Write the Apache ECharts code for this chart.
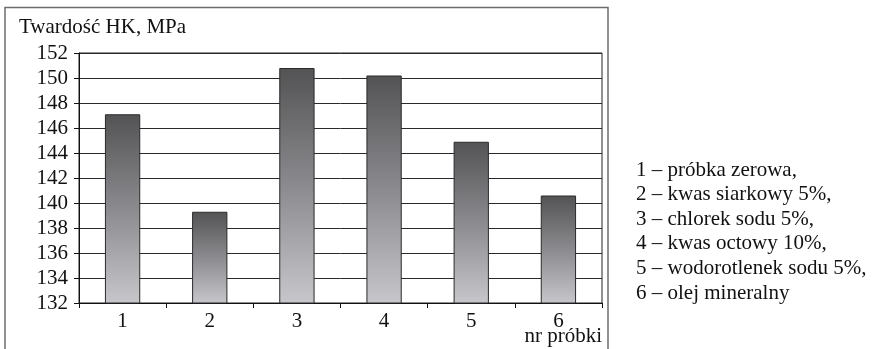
<!DOCTYPE html>
<html>
<head>
<meta charset="utf-8">
<script src="https://cdn.jsdelivr.net/npm/echarts@6/dist/echarts.min.js"></script>
<style>
  html, body { margin: 0; padding: 0; background: #ffffff; }
  #chart { width: 873px; height: 349px; }
</style>
</head>
<body>
<div id="chart"></div>
<script>
// Sample numbers and measured Knoop hardness (MPa)
const categories = ['1', '2', '3', '4', '5', '6'];
const hardness = [147.1, 139.3, 150.8, 150.2, 144.9, 140.6];

// Value axis range and step
const yMin = 132;
const yMax = 152;
const yStep = 2;

// Axis captions
const yCaption = 'Twardość HK, MPa';
const xCaption = 'nr próbki';

// Key to the sample numbers
const keyLines = [
  '1 – próbka zerowa,',
  '2 – kwas siarkowy 5%,',
  '3 – chlorek sodu 5%,',
  '4 – kwas octowy 10%,',
  '5 – wodorotlenek sodu 5%,',
  '6 – olej mineralny'
];

const FONT = "'Liberation Serif', 'Times New Roman', serif";
const FS = 21;

const chart = echarts.init(document.getElementById('chart'), null, { renderer: 'canvas' });

chart.setOption({
  animation: false,
  backgroundColor: '#ffffff',
  textStyle: { fontFamily: FONT, color: '#111' },
  grid: {
    left: 79, right: 271, top: 53, bottom: 46,
    show: true, borderColor: '#222', borderWidth: 1,
    containLabel: false
  },
  xAxis: {
    type: 'category',
    data: categories,
    boundaryGap: true,
    axisLine: { lineStyle: { color: '#111', width: 1 } },
    axisTick: { show: true, length: 5, lineStyle: { color: '#111' } },
    axisLabel: { margin: 8, fontFamily: FONT, fontSize: FS, color: '#111' },
    splitLine: { show: false }
  },
  yAxis: {
    type: 'value',
    min: yMin, max: yMax, interval: yStep,
    axisLine: { show: true, lineStyle: { color: '#111', width: 1 } },
    axisTick: { show: true, length: 5, lineStyle: { color: '#111' } },
    axisLabel: { margin: 11, fontFamily: FONT, fontSize: FS, color: '#111' },
    splitLine: { show: true, lineStyle: { color: '#2a2a2a', width: 1 } }
  },
  series: [{
    type: 'bar',
    data: hardness,
    barWidth: '40.5%',
    itemStyle: {
      borderColor: '#2a2a2a',
      borderWidth: 1,
      color: new echarts.graphic.LinearGradient(0, 0, 0, 1, [
        { offset: 0, color: '#535355' },
        { offset: 0.5, color: '#8b8b8f' },
        { offset: 1, color: '#c6c6cb' }
      ])
    }
  }],
  graphic: [
    {
      type: 'rect',
      shape: { x: 5, y: 7.5, width: 603, height: 400 },
      style: { fill: 'none', stroke: '#6e6e6e', lineWidth: 1.5 },
      silent: true
    },
    {
      type: 'text',
      x: 19, y: 27.5,
      style: { text: yCaption, font: FS + 'px ' + FONT, fill: '#111', verticalAlign: 'middle', align: 'left' }
    },
    {
      type: 'text',
      x: 602, y: 336,
      style: { text: xCaption, font: FS + 'px ' + FONT, fill: '#111', verticalAlign: 'middle', align: 'right' }
    },
    {
      type: 'text',
      x: 636, y: 157.7,
      style: {
        text: keyLines.join('\n'),
        font: FS + 'px ' + FONT,
        fill: '#111',
        lineHeight: 24.6,
        verticalAlign: 'top',
        align: 'left'
      }
    }
  ]
});
</script>
</body>
</html>
